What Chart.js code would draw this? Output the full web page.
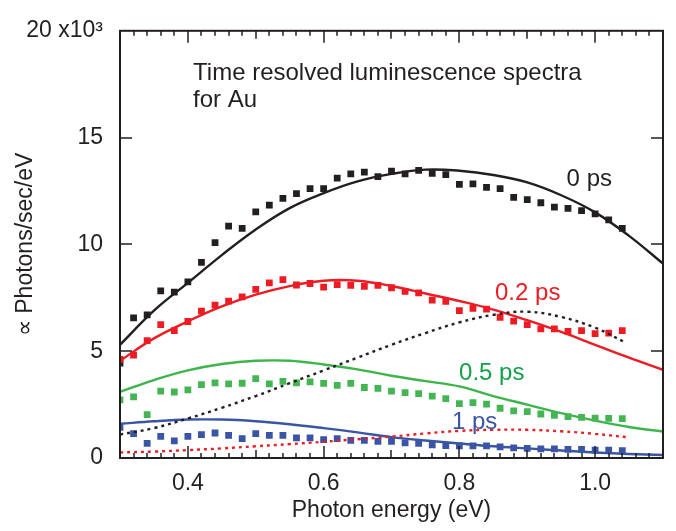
<!DOCTYPE html>
<html>
<head>
<meta charset="utf-8">
<script src="https://cdn.jsdelivr.net/npm/chart.js@4/dist/chart.umd.min.js"></script>
<style>
html,body{margin:0;padding:0;background:#fff;}
#wrap{width:676px;height:531px;}
</style>
</head>
<body>
<div id="wrap"><canvas id="lum" width="676" height="531"></canvas></div>
<script>
// photon energy of the measured points (eV)
var ptEnergy=[0.30,0.32,0.34,0.36,0.38,0.40,0.42,0.44,0.46,0.48,0.50,0.52,0.54,0.56,0.58,0.60,0.62,0.64,0.66,0.68,
              0.70,0.72,0.74,0.76,0.78,0.80,0.82,0.84,0.86,0.88,0.90,0.92,0.94,0.96,0.98,1.00,1.02,1.04];
// measured points, x10^3
var pts0=[4.44,6.56,6.70,7.82,7.77,8.25,9.16,10.08,10.86,10.75,11.52,11.84,12.15,12.38,12.61,12.61,13.10,13.30,13.38,13.17,
          13.43,13.30,13.47,13.33,13.27,12.81,12.83,12.67,12.61,12.20,12.10,11.95,11.75,11.69,11.58,11.43,11.15,10.75];
var pts02=[4.62,4.82,5.50,6.24,5.96,6.39,6.88,7.16,7.34,7.54,7.89,8.20,8.35,8.10,8.17,8.00,8.12,8.08,8.03,8.08,
           7.97,7.80,7.73,7.39,7.33,6.90,7.00,6.97,6.59,6.41,6.24,6.05,6.05,5.93,5.96,5.82,5.85,5.96];
var pts05=[2.72,2.86,2.03,3.13,3.09,3.19,3.44,3.52,3.47,3.50,3.72,3.47,3.59,3.52,3.56,3.49,3.40,3.49,3.30,3.26,
           3.13,3.06,3.01,2.90,2.78,2.55,2.59,2.52,2.33,2.21,2.17,2.06,2.00,1.94,1.90,1.87,1.86,1.84];
var pts1=[1.44,1.14,0.68,1.01,0.80,1.01,1.09,1.17,1.06,0.91,1.14,1.06,1.06,0.94,0.94,0.86,0.91,0.83,0.83,0.78,
          0.78,0.71,0.68,0.61,0.58,0.57,0.57,0.57,0.52,0.47,0.45,0.43,0.43,0.40,0.40,0.37,0.37,0.34];
// fitted curves
var fitEnergy=[0.30,0.35,0.40,0.45,0.50,0.55,0.60,0.65,0.70,0.75,0.80,0.85,0.90,0.95,1.00,1.05,1.10];
var fit0 =[5.3,6.9,8.2,9.5,10.7,11.7,12.4,12.95,13.3,13.5,13.45,13.25,12.9,12.3,11.5,10.4,9.1];
var fit02=[4.55,5.6,6.4,7.1,7.65,8.05,8.3,8.3,8.05,7.7,7.35,6.95,6.45,5.9,5.3,4.7,4.13];
var fit05=[3.1,3.65,4.1,4.4,4.55,4.55,4.38,4.15,3.85,3.6,3.35,2.9,2.5,2.1,1.75,1.45,1.24];
var fit1 =[1.6,1.72,1.8,1.8,1.72,1.58,1.4,1.2,0.98,0.82,0.68,0.55,0.45,0.35,0.26,0.19,0.14];
// dotted curves
var dotEnergy=[0.30,0.35,0.40,0.45,0.50,0.55,0.60,0.65,0.70,0.75,0.80,0.85,0.90,0.95,1.00,1.045];
var dotBlack=[1.1,1.4,1.85,2.35,2.9,3.5,4.1,4.7,5.3,5.85,6.35,6.7,6.85,6.6,6.1,5.4];
var dotRed  =[0.26,0.3,0.37,0.45,0.55,0.65,0.76,0.88,1.0,1.15,1.27,1.32,1.32,1.25,1.13,0.98];
// axes
var xTickVals=[0.4,0.6,0.8,1.0];
var yTickVals=[0,5,10,15,20];

var INK="#231f20", RED="#ed1c24", GREEN="#3db54b", BLUE="#3a55a5";
var FONT="'Liberation Sans', Arial, Helvetica, sans-serif";

var toXY=function(xs,ys){
	var out=[];
	for(var i=0;i<xs.length;i++){ out.push({x:xs[i],y:ys[i]}); }
	return out;
};
var pointSet=function(xs,ys,color){
	return {data:toXY(xs,ys),showLine:false,pointStyle:'rect',pointRadius:4.8,
		pointBackgroundColor:color,pointBorderWidth:0,borderColor:color};
};
var lineSet=function(xs,ys,color,dash){
	return {data:toXY(xs,ys),showLine:true,pointRadius:0,borderColor:color,
		borderWidth:2.4,borderDash:dash||[],tension:0.4,fill:false};
};

// text labels at data positions
var labels=[
	{x:0.958,y:13.03,text:"0 ps",color:INK},
	{x:0.8525,y:7.71,text:"0.2 ps",color:RED},
	{x:0.7995,y:3.97,text:"0.5 ps",color:"#15a04a"},
	{x:0.789,y:1.66,text:"1 ps",color:BLUE},
	{x:0.4076,y:18.0,text:"Time resolved luminescence spectra",color:INK},
	{x:0.4076,y:16.75,text:"for Au",color:INK}
];

//框和向内的刻度
var framePlugin={
	id:'frame',
	afterDatasetsDraw:function(chart){
		var ctx=chart.ctx, a=chart.chartArea, xs=chart.scales.x, ys=chart.scales.y;
		ctx.save();
		ctx.strokeStyle=INK;
		ctx.lineWidth=1.5;
		var i,v,px,len;
		for(i=0;i<=40;i++){
			v=0.3+i*0.02;
			px=Math.round(xs.getPixelForValue(v));
			len=5;
			if(i%5==0) len=8;
			if(i%10==5) len=12;
			ctx.beginPath();
			ctx.moveTo(px,a.bottom);ctx.lineTo(px,a.bottom-len);
			ctx.moveTo(px,a.top);ctx.lineTo(px,a.top+len);
			ctx.stroke();
		}
		for(i=1;i<yTickVals.length-1;i++){
			px=Math.round(ys.getPixelForValue(yTickVals[i]));
			ctx.beginPath();
			ctx.moveTo(a.left,px);ctx.lineTo(a.left+12,px);
			ctx.moveTo(a.right,px);ctx.lineTo(a.right-12,px);
			ctx.stroke();
		}
		ctx.lineWidth=2;
		ctx.strokeRect(a.left,a.top,a.right-a.left,a.bottom-a.top);
		// labels
		ctx.font="24px "+FONT;
		ctx.textAlign="left";
		ctx.textBaseline="middle";
		labels.forEach(function(l){
			ctx.fillStyle=l.color;
			ctx.fillText(l.text,xs.getPixelForValue(l.x),ys.getPixelForValue(l.y));
		});
		ctx.restore();
	}
};

var lumChart=new Chart(document.getElementById("lum"),{
	type:'scatter',
	data:{datasets:[
		lineSet(dotEnergy,dotBlack,INK,[3,4]),
		lineSet(dotEnergy,dotRed,RED,[3,4]),
		pointSet(ptEnergy,pts1,BLUE),
		pointSet(ptEnergy,pts05,"#45b553"),
		pointSet(ptEnergy,pts02,RED),
		pointSet(ptEnergy,pts0,INK),
		lineSet(fitEnergy,fit1,BLUE),
		lineSet(fitEnergy,fit05,GREEN),
		lineSet(fitEnergy,fit02,RED),
		lineSet(fitEnergy,fit0,INK)
	]},
	options:{
		responsive:false,
		animation:false,
		layout:{padding:{left:0,top:25,right:13,bottom:0}},
		plugins:{legend:{display:false},tooltip:{enabled:false}},
		scales:{
			x:{
				type:'linear',min:0.3,max:1.1,
				grid:{display:false,drawTicks:false},
				border:{display:false},
				afterBuildTicks:function(s){ s.ticks=xTickVals.map(function(v){return {value:v};}); },
				afterFit:function(s){ s.height=73; },
				ticks:{color:INK,font:{family:FONT,size:23},padding:12,maxRotation:0,
					callback:function(v){ return Number(v).toFixed(1); }},
				title:{display:true,text:'Photon energy (eV)',color:INK,font:{family:FONT,size:23},padding:{top:0,bottom:7}}
			},
			y:{
				min:0,max:20,
				grid:{display:false,drawTicks:false},
				border:{display:false},
				afterBuildTicks:function(s){ s.ticks=yTickVals.map(function(v){return {value:v};}); },
				afterFit:function(s){ s.width=120; },
				ticks:{color:INK,font:{family:FONT,size:23},padding:17,
					callback:function(v){ return v==20 ? '20 x10\u00b3' : String(v); }},
				title:{display:true,text:'\u221d Photons/sec/eV',color:INK,font:{family:FONT,size:23},padding:{top:12,bottom:0}}
			}
		}
	},
	plugins:[framePlugin]
});
</script>
</body>
</html>
